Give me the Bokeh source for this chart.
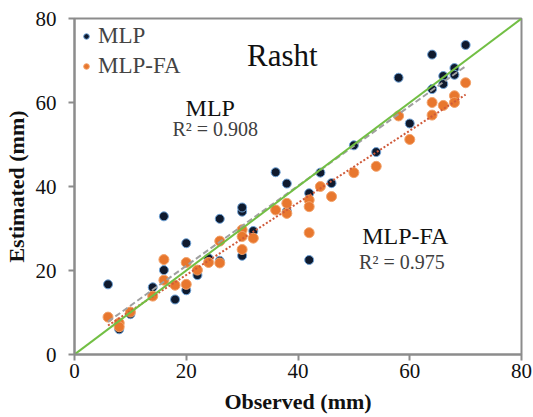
import numpy as np
from bokeh.plotting import figure
from bokeh.models import Range1d, Label
from bokeh.embed import file_html
from bokeh.resources import INLINE

# ---- data ----
mlp_obs = [6, 8, 10, 14, 16, 16, 18, 20, 20, 22, 24, 26, 26, 30, 30, 30, 32, 36, 38, 38,
           42, 42, 44, 46, 50, 54, 58, 60, 64, 64, 66, 66, 68, 68, 70]
mlp_est = [16.7, 6.0, 9.6, 16.0, 20.1, 32.9, 13.1, 15.3, 26.5, 18.9, 22.9, 32.3, 22.3, 34.0,
           35.0, 23.5, 29.4, 43.4, 40.7, 34.1, 38.4, 22.5, 43.3, 40.8, 49.8, 48.2, 65.9, 55.0,
           71.4, 63.2, 66.3, 64.4, 68.2, 66.6, 73.7]

fa_obs = [6, 8, 8, 10, 14, 16, 16, 18, 20, 20, 22, 24, 26, 26, 30, 30, 30, 32, 36, 38, 38,
          42, 42, 42, 44, 46, 50, 54, 58, 60, 64, 64, 66, 68, 68, 70]
fa_est = [8.9, 7.5, 6.6, 10.1, 13.9, 22.6, 17.7, 16.5, 21.9, 16.7, 20.1, 21.9, 27.0, 21.8,
          29.7, 28.1, 25.0, 27.7, 34.4, 36.0, 33.6, 36.8, 35.2, 29.0, 40.0, 37.6, 43.3, 44.8,
          56.8, 51.2, 60.0, 57.0, 59.3, 61.6, 60.0, 64.7]

one_to_one = [0, 80]
ticks = [0, 20, 40, 60, 80]
r2_mlp = "R\u00b2 = 0.908"
r2_fa = "R\u00b2 = 0.975"

FONT = "Liberation Serif"

p = figure(width=533, height=417, output_backend="svg", toolbar_location=None,
           x_range=Range1d(0, 80), y_range=Range1d(0, 80),
           min_border_left=71, min_border_right=12, min_border_top=18, min_border_bottom=63)
p.grid.visible = False
p.background_fill_color = "white"
p.border_fill_color = "white"
p.outline_line_color = "#8c8c8c"
p.outline_line_width = 2

for ax in (p.xaxis[0], p.yaxis[0]):
    ax.ticker = ticks
    ax.axis_line_color = "#8c8c8c"
    ax.axis_line_width = 2
    ax.major_tick_line_color = "#8c8c8c"
    ax.major_tick_line_width = 2
    ax.major_tick_out = 6
    ax.major_tick_in = 0
    ax.minor_tick_out = 0
    ax.minor_tick_in = 0
    ax.major_label_text_font = FONT
    ax.major_label_text_font_size = "21px"
    ax.major_label_text_color = "#111111"
    ax.axis_label_text_font = FONT
    ax.axis_label_text_font_size = "22px"
    ax.axis_label_text_font_style = "bold"
    ax.axis_label_text_color = "#111111"
p.yaxis.major_label_standoff = 12
p.xaxis.major_label_standoff = 3
p.xaxis.axis_label = "Observed (mm)"
p.yaxis.axis_label = "Estimated (mm)"
p.xaxis.axis_label_standoff = 8
p.yaxis.axis_label_standoff = 4

# scatter series
r1 = p.scatter(mlp_obs, mlp_est, size=9, fill_color="#0f1a2e", line_color="#6fa3d8",
               line_width=1, legend_label="MLP")
r2 = p.scatter(fa_obs, fa_est, size=10, fill_color="#e8772e", line_color="#f2a26a",
               line_width=1, legend_label="MLP-FA")

# trend lines (least squares on each series)
def trend(xs, ys):
    k, b = np.polyfit(xs, ys, 1)
    xx = np.array([min(xs), max(xs)], dtype=float)
    return xx, k * xx + b

tx, ty = trend(mlp_obs, mlp_est)
p.line(tx, ty, line_color="#a0a0a0", line_width=2, line_dash="6 3")
fx, fy = trend(fa_obs, fa_est)
p.line(fx, fy, line_color="#cf5a3a", line_width=2, line_dash="2 2")

# 1:1 line
p.line(one_to_one, one_to_one, line_color="#72bf44", line_width=2)

# legend
lg = p.legend[0]
lg.location = "top_left"
lg.margin = 5
lg.padding = 10
lg.border_line_color = None
lg.background_fill_alpha = 0
lg.label_text_font = FONT
lg.label_text_font_size = "23px"
lg.glyph_width = 14
lg.glyph_height = 16
lg.label_standoff = 5
lg.spacing = 4

def lab(x, y, text, size, color="#111111"):
    p.add_layout(Label(x=x, y=y, text=text, text_font=FONT, text_font_size=size,
                       text_color=color, text_align="center", text_baseline="alphabetic"))

lab(37.2, 71.2, "Rasht", "31px")
lab(24.3, 58.8, "MLP", "24px")
lab(25.2, 53.6, r2_mlp, "20px", color="#404040")
lab(59.2, 28.1, "MLP-FA", "24px")
lab(58.6, 22.1, r2_fa, "20px", color="#404040")

open("out.html", "w").write(file_html(p, INLINE))
